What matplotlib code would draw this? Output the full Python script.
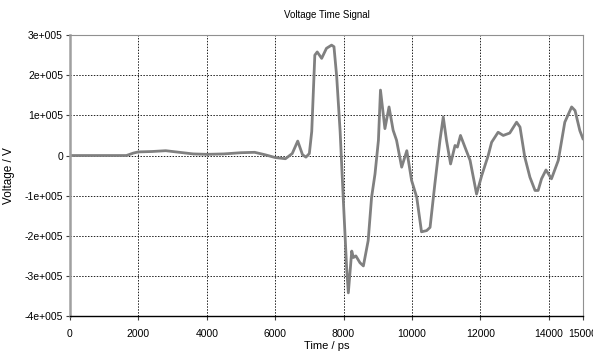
import numpy as np
import matplotlib
matplotlib.use('Agg')
import matplotlib.pyplot as plt
from matplotlib.ticker import FuncFormatter

plt.rcParams['font.family'] = ['Liberation Sans', 'DejaVu Sans']

# time (ps) and voltage (V)
time_ps = [0, 1000, 1650, 1850, 2000, 2400, 2800, 3200, 3600, 4000, 4500,
           5000, 5400, 5700, 6000, 6300, 6500, 6660, 6800, 6900, 7000,
           7070, 7160, 7230, 7360, 7500, 7650, 7720, 7800, 7900, 7990,
           8090, 8140, 8240, 8290, 8360, 8480, 8580, 8720, 8820, 8920,
           9020, 9080, 9210, 9330, 9450, 9550, 9700, 9850, 9990, 10140,
           10280, 10430, 10530, 10670, 10820, 10916, 11010, 11130, 11260,
           11330, 11420, 11550, 11700, 11890, 12040, 12230, 12330, 12520,
           12670, 12860, 13060, 13160, 13300, 13450, 13600, 13690, 13790,
           13920, 14080, 14280, 14470, 14670, 14770, 14910, 15000]
voltage = [0, 0, 0, 6e3, 9e3, 1.0e4, 1.2e4, 0.8e4, 0.4e4, 0.3e4, 0.4e4,
           0.7e4, 0.8e4, 0.2e4, -0.5e4, -0.8e4, 0.5e4, 3.6e4, 0.2e4, -0.4e4,
           0.5e4, 6e4, 2.5e5, 2.58e5, 2.42e5, 2.67e5, 2.75e5, 2.71e5,
           1.96e5, 6e4, -1.04e5, -2.79e5, -3.42e5, -2.38e5, -2.54e5, -2.5e5,
           -2.67e5, -2.75e5, -2.12e5, -1.04e5, -4.6e4, 3.8e4, 1.63e5, 6.7e4,
           1.21e5, 6.3e4, 3.8e4, -2.9e4, 1.2e4, -6.2e4, -1.04e5, -1.9e5,
           -1.87e5, -1.79e5, -7.1e4, 3.8e4, 9.6e4, 3.8e4, -2.1e4, 2.5e4,
           2.1e4, 5e4, 2.1e4, -1.2e4, -9.6e4, -5e4, 0, 3.3e4, 5.8e4, 5e4,
           5.6e4, 8.3e4, 7.1e4, -0.4e4, -5.4e4, -8.7e4, -8.7e4, -5.8e4,
           -3.6e4, -5.8e4, -1.2e4, 8.3e4, 1.21e5, 1.12e5, 6.2e4, 4.2e4]

x_ticks = [0, 2000, 4000, 6000, 8000, 10000, 12000, 14000, 15000]
y_ticks = [-4e5, -3e5, -2e5, -1e5, 0, 1e5, 2e5, 3e5]


def sci_fmt(v, pos):
    if v == 0:
        return '0'
    m = int(round(v / 1e5))
    return '%de+005' % m


fig = plt.figure(figsize=(5.93, 3.58), dpi=100)
ax = fig.add_axes([0.118, 0.117, 0.865, 0.785])

ax.plot(time_ps, voltage, color='#808080', lw=2.0, solid_joinstyle='round')

ax.set_xlim(0, 15000)
ax.set_ylim(-4e5, 3e5)
ax.set_xticks(x_ticks)
ax.set_yticks(y_ticks)
ax.yaxis.set_major_formatter(FuncFormatter(sci_fmt))
ax.tick_params(labelsize=7.5, length=3, width=0.8, color='#404040', pad=2)
ax.tick_params(axis='x', pad=6)

ax.grid(True, color='#202020', linestyle=(0, (1.5, 1.5)), lw=0.7)
# no grid line on the right edge (15000)
ax.get_xgridlines()[-1].set_visible(False)

ax.spines['left'].set_color('#a0a0a0')
ax.spines['left'].set_linewidth(1.8)
ax.spines['bottom'].set_color('black')
ax.spines['bottom'].set_linewidth(1.0)
ax.spines['top'].set_color('#909090')
ax.spines['right'].set_color('#909090')

ax.set_title('Voltage Time Signal', fontsize=7, pad=12)
ax.set_xlabel('Time / ps', fontsize=8, labelpad=2)
ax.set_ylabel('Voltage / V', fontsize=8.5, labelpad=7)

fig.savefig('out.png', dpi=100)
